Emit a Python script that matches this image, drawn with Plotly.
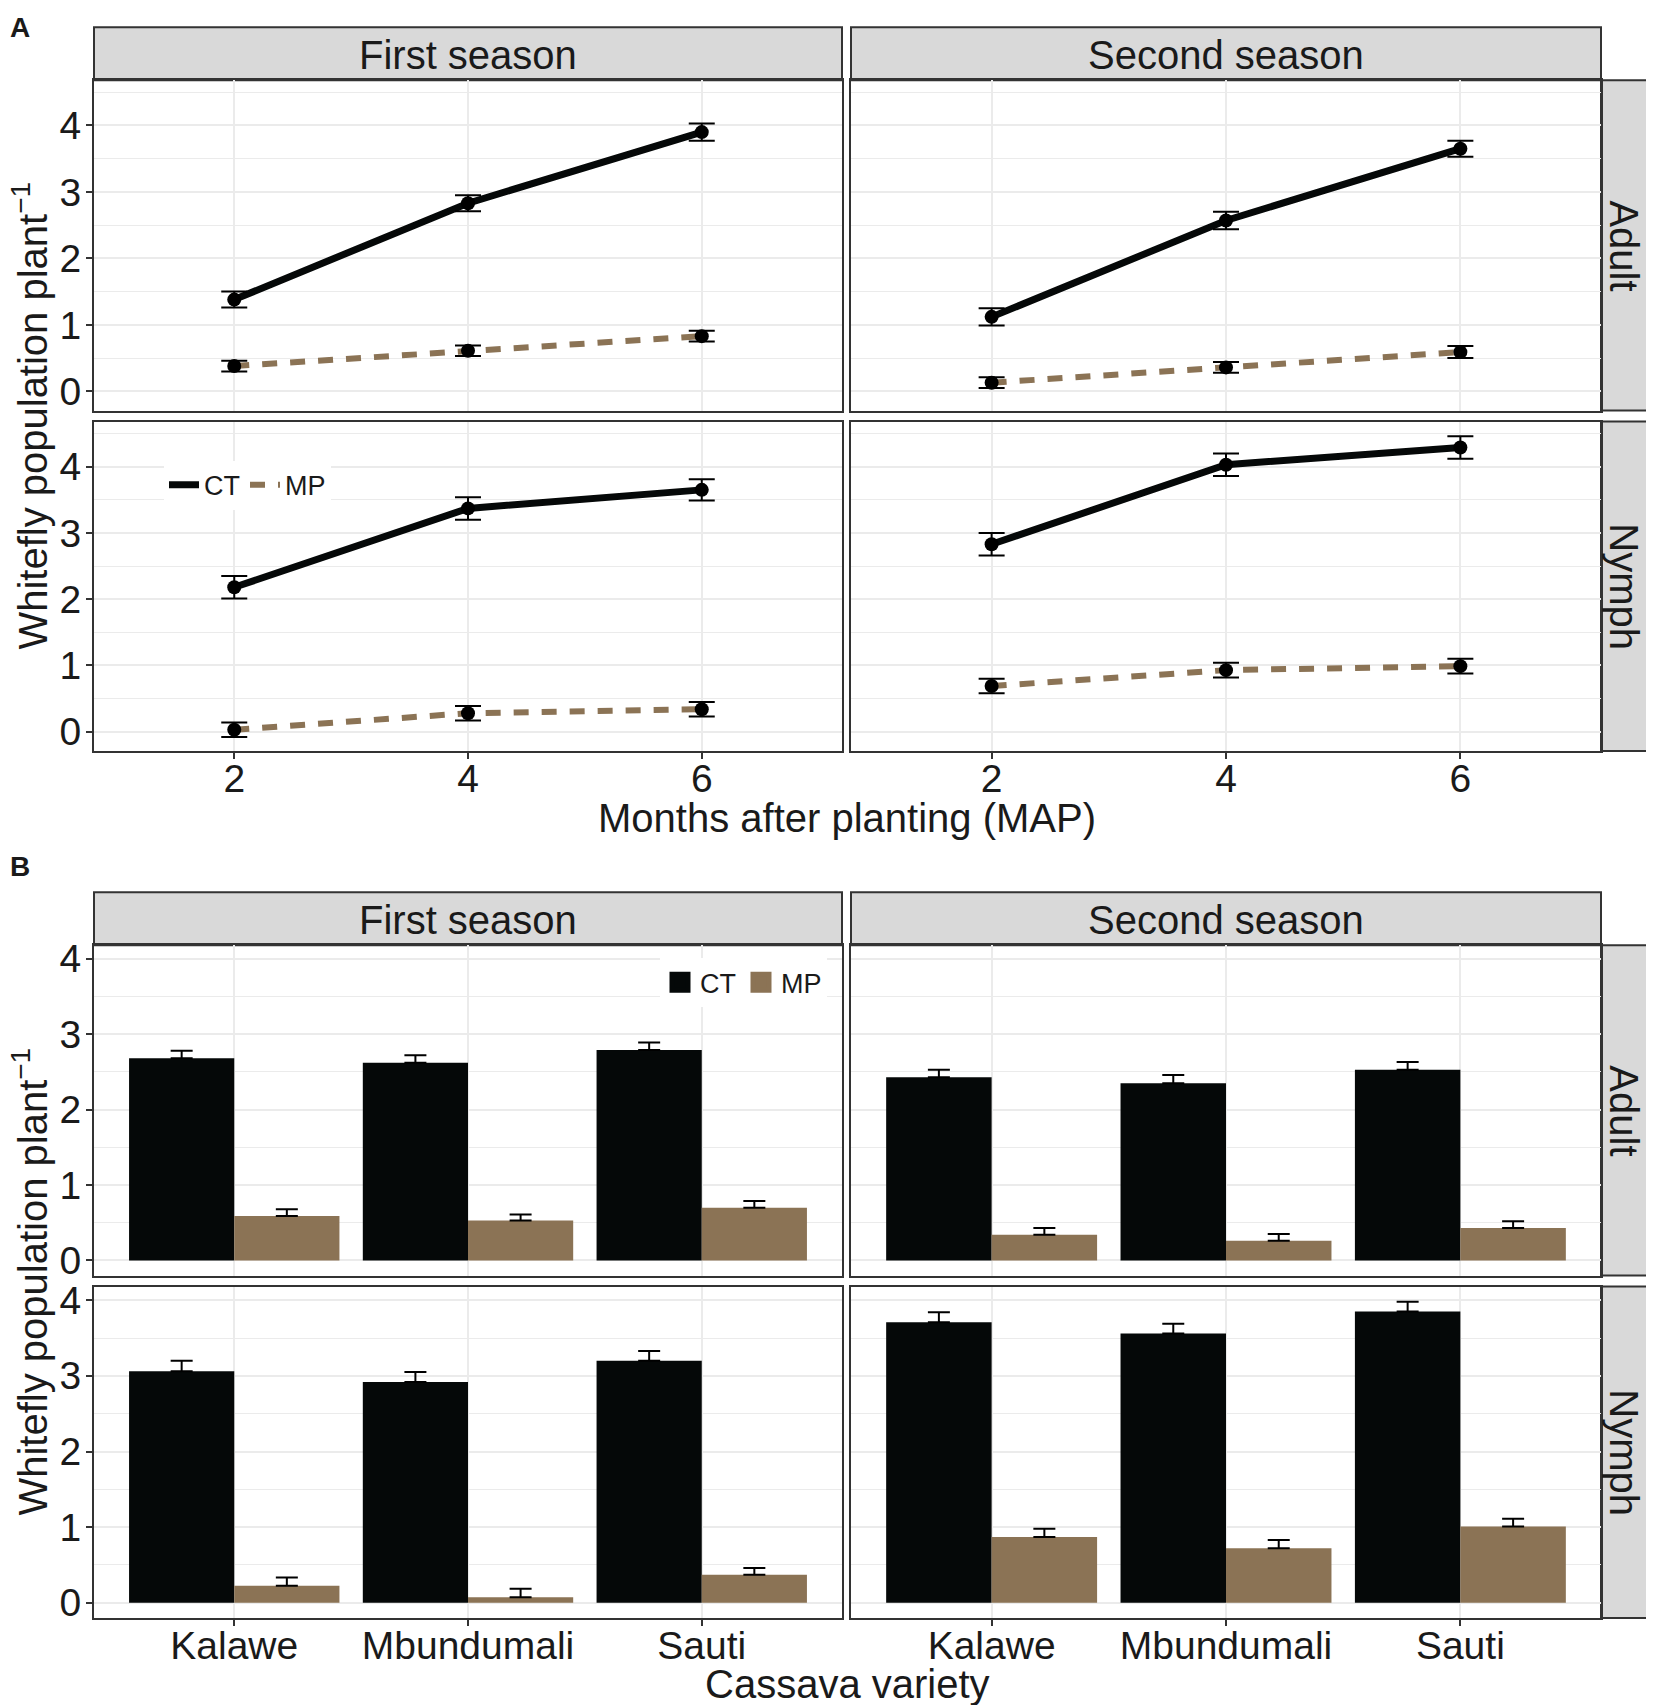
import plotly.graph_objects as go

# ---------------- data ----------------
months = [2, 4, 6]
varieties = ["Kalawe", "Mbundumali", "Sauti"]
seasons = ["First season", "Second season"]
stages = ["Adult", "Nymph"]

# Panel A: mean whitefly population by MAP (CT / MP) and SE
a_ct_adult_s1 = [1.38, 2.83, 3.90]
a_ct_adult_s1_se = [0.12, 0.12, 0.13]
a_mp_adult_s1 = [0.38, 0.61, 0.83]
a_mp_adult_s1_se = [0.08, 0.08, 0.08]
a_ct_adult_s2 = [1.12, 2.57, 3.65]
a_ct_adult_s2_se = [0.13, 0.13, 0.12]
a_mp_adult_s2 = [0.13, 0.36, 0.59]
a_mp_adult_s2_se = [0.08, 0.08, 0.09]
a_ct_nymph_s1 = [2.18, 3.37, 3.65]
a_ct_nymph_s1_se = [0.17, 0.17, 0.16]
a_mp_nymph_s1 = [0.03, 0.28, 0.34]
a_mp_nymph_s1_se = [0.11, 0.11, 0.11]
a_ct_nymph_s2 = [2.83, 4.03, 4.29]
a_ct_nymph_s2_se = [0.17, 0.17, 0.17]
a_mp_nymph_s2 = [0.69, 0.93, 0.99]
a_mp_nymph_s2_se = [0.11, 0.11, 0.11]

# Panel B: mean whitefly population by variety (CT / MP) and SE
b_ct_adult_s1 = [2.68, 2.62, 2.79]
b_ct_adult_s1_se = [0.10, 0.10, 0.10]
b_mp_adult_s1 = [0.59, 0.53, 0.70]
b_mp_adult_s1_se = [0.09, 0.08, 0.09]
b_ct_adult_s2 = [2.43, 2.35, 2.53]
b_ct_adult_s2_se = [0.10, 0.11, 0.10]
b_mp_adult_s2 = [0.34, 0.26, 0.43]
b_mp_adult_s2_se = [0.09, 0.09, 0.09]
b_ct_nymph_s1 = [3.06, 2.92, 3.20]
b_ct_nymph_s1_se = [0.14, 0.13, 0.13]
b_mp_nymph_s1 = [0.225, 0.075, 0.37]
b_mp_nymph_s1_se = [0.11, 0.11, 0.09]
b_ct_nymph_s2 = [3.71, 3.56, 3.85]
b_ct_nymph_s2_se = [0.13, 0.13, 0.13]
b_mp_nymph_s2 = [0.87, 0.72, 1.01]
b_mp_nymph_s2_se = [0.11, 0.11, 0.10]

treatments = ["CT", "MP"]
y_tick_vals = [0, 1, 2, 3, 4]

# ---------------- style ----------------
PAGE_W = 1654
OFF_X = 8                      # page body margin
W, H = PAGE_W - OFF_X, 1697
Y_SCALE, Y_OFF = 1.00944, 17   # page-to-figure vertical mapping
FONT = "Liberation Sans, Arial, sans-serif"
TXT = "#1a1a1a"
CT_COL = "#050808"
MP_COL = "#8B7355"
STRIP_FILL = "#D9D9D9"
BORDER = "#333333"
GRID = "#EBEBEB"

def fx(px):
    return (px - OFF_X) / W

def fy(py):
    return 1 - (py * Y_SCALE - Y_OFF) / H

xL = [fx(94), fx(842)]
xR = [fx(851), fx(1601)]
rows = {
    "A_adult": [fy(411), fy(81)],
    "A_nymph": [fy(751), fy(422)],
    "B_adult": [fy(1275), fy(945)],
    "B_nymph": [fy(1617), fy(1286)],
}

fig = go.Figure()

panels = [
    (1, "A_adult", xL, "A", False, True),
    (2, "A_adult", xR, "A", False, False),
    (3, "A_nymph", xL, "A", True, True),
    (4, "A_nymph", xR, "A", True, False),
    (5, "B_adult", xL, "B", False, True),
    (6, "B_adult", xR, "B", False, False),
    (7, "B_nymph", xL, "B", True, True),
    (8, "B_nymph", xR, "B", True, False),
]

layout_axes = {}
for idx, row, xdom, kind, showx, showy in panels:
    sfx = "" if idx == 1 else str(idx)
    xa = dict(
        domain=xdom, anchor=f"y{sfx}",
        showline=True, mirror=True, linecolor=BORDER, linewidth=2,
        showgrid=True, gridcolor=GRID, gridwidth=2, zeroline=False,
        ticks="outside" if showx else "", ticklen=6, tickcolor=BORDER, tickwidth=2,
        showticklabels=showx, ticklabelstandoff=-14,
        tickfont=dict(family=FONT, size=39, color=TXT),
        fixedrange=True,
    )
    if kind == "A":
        xa.update(range=[0.8, 7.2], tickvals=months, ticktext=[str(m) for m in months])
    else:
        xa.update(type="category", range=[-0.6, 2.6], categoryorder="array",
                  categoryarray=varieties)
    ya = dict(
        domain=rows[row], anchor=f"x{sfx}",
        showline=True, mirror=True, linecolor=BORDER, linewidth=2,
        showgrid=True, gridcolor=GRID, gridwidth=2, zeroline=False,
        tickvals=y_tick_vals,
        ticks="outside" if showy else "", ticklen=6, tickcolor=BORDER, tickwidth=2,
        showticklabels=showy, ticklabelstandoff=-3,
        tickfont=dict(family=FONT, size=39, color=TXT),
        minor=dict(dtick=0.5, tick0=0, showgrid=True, gridcolor=GRID, gridwidth=1),
        fixedrange=True,
    )
    ya.update(range=[-0.29, 4.68] if kind == "A" else [-0.2, 4.18])
    layout_axes["xaxis" + sfx] = xa
    layout_axes["yaxis" + sfx] = ya

# ---------------- panel A traces ----------------
a_sets = [
    (1, a_ct_adult_s1, a_ct_adult_s1_se, a_mp_adult_s1, a_mp_adult_s1_se),
    (2, a_ct_adult_s2, a_ct_adult_s2_se, a_mp_adult_s2, a_mp_adult_s2_se),
    (3, a_ct_nymph_s1, a_ct_nymph_s1_se, a_mp_nymph_s1, a_mp_nymph_s1_se),
    (4, a_ct_nymph_s2, a_ct_nymph_s2_se, a_mp_nymph_s2, a_mp_nymph_s2_se),
]
for idx, ct, ct_se, mp, mp_se in a_sets:
    sfx = "" if idx == 1 else str(idx)
    xr, yr = "x" + sfx, "y" + sfx
    first = idx == 3
    fig.add_trace(go.Scatter(
        x=months, y=ct, mode="lines", name="CT",
        line=dict(color=CT_COL, width=7), xaxis=xr, yaxis=yr,
        showlegend=first, legend="legend", legendgroup="aCT"))
    fig.add_trace(go.Scatter(
        x=months, y=mp, mode="lines", name="MP",
        line=dict(color=MP_COL, width=6, dash="15px,13px"), xaxis=xr, yaxis=yr,
        showlegend=first, legend="legend", legendgroup="aMP"))
    for vals, se in ((ct, ct_se), (mp, mp_se)):
        fig.add_trace(go.Scatter(
            x=months, y=vals, mode="markers",
            marker=dict(color="black", size=14),
            error_y=dict(type="data", array=se, color="black", thickness=2, width=13),
            xaxis=xr, yaxis=yr, showlegend=False))

# ---------------- panel B traces ----------------
b_sets = [
    (5, b_ct_adult_s1, b_ct_adult_s1_se, b_mp_adult_s1, b_mp_adult_s1_se),
    (6, b_ct_adult_s2, b_ct_adult_s2_se, b_mp_adult_s2, b_mp_adult_s2_se),
    (7, b_ct_nymph_s1, b_ct_nymph_s1_se, b_mp_nymph_s1, b_mp_nymph_s1_se),
    (8, b_ct_nymph_s2, b_ct_nymph_s2_se, b_mp_nymph_s2, b_mp_nymph_s2_se),
]
for idx, ct, ct_se, mp, mp_se in b_sets:
    xr, yr = f"x{idx}", f"y{idx}"
    for name, vals, se, col in (("CT", ct, ct_se, CT_COL), ("MP", mp, mp_se, MP_COL)):
        fig.add_trace(go.Bar(
            x=varieties, y=vals, name=name, marker=dict(color=col, line=dict(width=0)),
            error_y=dict(type="data", symmetric=False, array=se,
                         arrayminus=[0] * len(se), color="black", thickness=2, width=11),
            xaxis=xr, yaxis=yr, showlegend=False, offsetgroup=name))

# legend keys for panel B (square swatches)
for name, col in zip(treatments, (CT_COL, MP_COL)):
    fig.add_trace(go.Scatter(
        x=[None], y=[None], mode="markers", name=name,
        marker=dict(symbol="square", size=16, color=col, line=dict(color=col, width=5)),
        xaxis="x5", yaxis="y5", showlegend=True, legend="legend2"))

# ---------------- strips ----------------
shapes = []
def rect(x0, y0, x1, y1):
    shapes.append(dict(type="rect", xref="paper", yref="paper",
                       x0=fx(x0), x1=fx(x1), y0=fy(y1), y1=fy(y0),
                       fillcolor=STRIP_FILL, line=dict(color=BORDER, width=2),
                       layer="below"))

annotations = []
def text(s, x, y, size=40, angle=0, bold=False, xanchor="center"):
    annotations.append(dict(
        text=f"<b>{s}</b>" if bold else s, x=fx(x), y=fy(y),
        xref="paper", yref="paper", showarrow=False, textangle=angle,
        xanchor=xanchor, yanchor="middle",
        font=dict(family=FONT, size=size, color=TXT)))

for top, bot in ((28, 81), (892, 945)):
    rect(94, top, 842, bot)
    rect(851, top, 1601, bot)
    text(seasons[0], 468, (top + bot) / 2 + 1)
    text(seasons[1], 1226, (top + bot) / 2 + 1)

for (top, bot), lab in (((81, 411), stages[0]), ((422, 751), stages[1]),
                        ((945, 1275), stages[0]), ((1286, 1617), stages[1])):
    rect(1601, top, 1670, bot)
    text(lab, 1624, (top + bot) / 2, angle=90)

# axis titles and panel labels
text("Months after planting (MAP)", 847, 818)
text("Cassava variety", 847, 1683)
text("Whitefly population plant<sup>−1</sup>", 30, 416, angle=-90)
text("Whitefly population plant<sup>−1</sup>", 30, 1281, angle=-90)
text("A", 8, 28, size=28, bold=True, xanchor="left")
text("B", 8, 866, size=28, bold=True, xanchor="left")

fig.update_layout(
    width=W, height=H,
    margin=dict(l=0, r=0, t=0, b=0),
    paper_bgcolor="white", plot_bgcolor="white",
    font=dict(family=FONT, color=TXT),
    barmode="group", bargap=0.1, bargroupgap=0,
    shapes=shapes, annotations=annotations,
    legend=dict(x=fx(164), y=fy(461), xanchor="left", yanchor="top",
                orientation="h", bgcolor="white", borderwidth=0,
                font=dict(family=FONT, size=27, color=TXT),
                itemwidth=30, tracegroupgap=0),
    legend2=dict(x=fx(660), y=fy(958), xanchor="left", yanchor="top",
                 orientation="h", bgcolor="white", borderwidth=0,
                 font=dict(family=FONT, size=27, color=TXT),
                 itemwidth=30),
    **layout_axes,
)

fig.write_html("out.html")
